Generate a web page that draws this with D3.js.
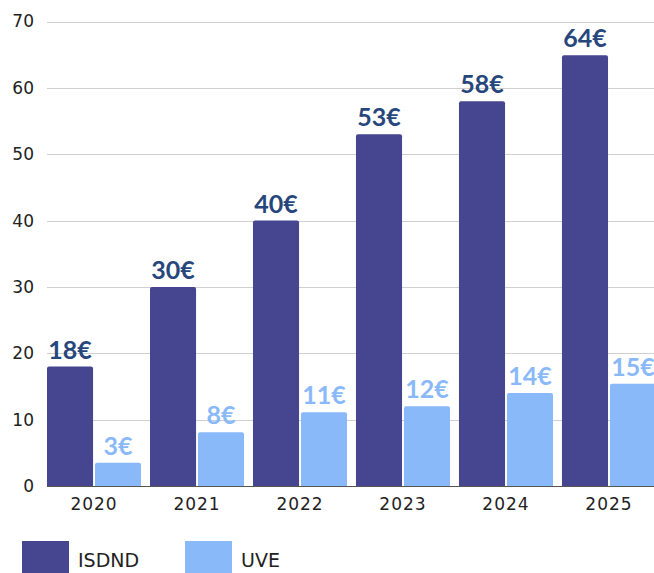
<!DOCTYPE html>
<html>
<head>
<meta charset="utf-8">
<script src="https://cdn.jsdelivr.net/npm/d3@7"></script>
<style>
  body { margin: 0; background: #fff; }
  svg { display: block; }
</style>
</head>
<body>
<script>
// data
var years = ["2020", "2021", "2022", "2023", "2024", "2025"];
var seriesNames = ["ISDND", "UVE"];
var isdndValues = [18, 30, 40, 53, 58, 64.9];
var uveValues = [3.5, 8.1, 11.1, 12, 14, 15.4];
var isdndLabels = ["18€", "30€", "40€", "53€", "58€", "64€"];
var uveLabels = ["3€", "8€", "11€", "12€", "14€", "15€"];
var yTicks = [0, 10, 20, 30, 40, 50, 60, 70];

var width = 654, height = 573;
var colors = { ISDND: "#45468f", UVE: "#89b9f9" };
var labelColors = { ISDND: "#27477c", UVE: "#89b9f9" };
var tickFont = "'DejaVu Sans', sans-serif";

var svg = d3.select("body").append("svg")
    .attr("width", width)
    .attr("height", height);

var y = d3.scaleLinear().domain([0, 70]).range([486, 21.5]);

var x0 = d3.scaleBand()
    .domain(years)
    .range([42.5, 660.5])
    .paddingInner(0.087)
    .paddingOuter(0.0437);

var x1 = d3.scaleBand()
    .domain(seriesNames)
    .range([0, x0.bandwidth()])
    .paddingInner(0.04);

// gridlines
svg.append("g")
  .selectAll("line")
  .data(yTicks.filter(function(d){ return d > 0; }))
  .join("line")
    .attr("x1", 47).attr("x2", width)
    .attr("y1", function(d){ return Math.round(y(d)) + 0.5; })
    .attr("y2", function(d){ return Math.round(y(d)) + 0.5; })
    .attr("stroke", "#d0d0d0")
    .attr("stroke-width", 1);

// y tick labels
var yAxis = svg.append("g")
    .attr("transform", "translate(34,0)")
    .call(d3.axisLeft(y).tickValues(yTicks).tickSize(0).tickPadding(0));
yAxis.select(".domain").remove();
yAxis.selectAll("text")
    .attr("font-family", tickFont)
    .attr("font-size", 17)
    .attr("fill", "#222");

// rows for each year
var rows = years.map(function(yr, i){
  return [
    { year: yr, key: "ISDND", value: isdndValues[i], label: isdndLabels[i] },
    { year: yr, key: "UVE", value: uveValues[i], label: uveLabels[i] }
  ];
});

function barPath(x, top, w, bottom, r) {
  return "M" + x + "," + bottom +
    "V" + (top + r) +
    "Q" + x + "," + top + " " + (x + r) + "," + top +
    "H" + (x + w - r) +
    "Q" + (x + w) + "," + top + " " + (x + w) + "," + (top + r) +
    "V" + bottom + "Z";
}

var groups = svg.append("g")
  .selectAll("g")
  .data(rows)
  .join("g")
    .attr("transform", function(d){ return "translate(" + x0(d[0].year) + ",0)"; });

groups.selectAll("path")
  .data(function(d){ return d; })
  .join("path")
    .attr("d", function(d){
      return barPath(x1(d.key), y(d.value), x1.bandwidth(), y(0), 2);
    })
    .attr("fill", function(d){ return colors[d.key]; });

groups.selectAll("text")
  .data(function(d){ return d; })
  .join("text")
    .attr("x", function(d){ return x1(d.key) + x1.bandwidth() / 2; })
    .attr("y", function(d){ return y(d.value) - 8; })
    .attr("text-anchor", "middle")
    .attr("font-family", "Lato, 'Open Sans', sans-serif")
    .attr("font-weight", "bold")
    .attr("font-size", 25)
    .attr("fill", function(d){ return labelColors[d.key]; })
    .text(function(d){ return d.label; });

// baseline
svg.append("line")
    .attr("x1", 47).attr("x2", width)
    .attr("y1", y(0) + 0.5).attr("y2", y(0) + 0.5)
    .attr("stroke", "#555")
    .attr("stroke-width", 1);

// x axis labels
var xAxis = svg.append("g")
    .attr("transform", "translate(0," + y(0) + ")")
    .call(d3.axisBottom(x0).tickSize(0).tickPadding(12));
xAxis.select(".domain").remove();
xAxis.selectAll("text")
    .attr("font-family", tickFont)
    .attr("font-size", 17)
    .attr("letter-spacing", 1)
    .attr("fill", "#222");

// legend
var legend = svg.append("g")
  .selectAll("g")
  .data(seriesNames)
  .join("g")
    .attr("transform", function(d, i){ return "translate(" + (22 + i * 163) + ",541)"; });

legend.append("rect")
    .attr("width", 47).attr("height", 33)
    .attr("fill", function(d){ return colors[d]; });

legend.append("text")
    .attr("x", 56).attr("y", 26)
    .attr("font-family", tickFont)
    .attr("font-size", 19)
    .attr("fill", "#222")
    .text(function(d){ return d; });
</script>
</body>
</html>
